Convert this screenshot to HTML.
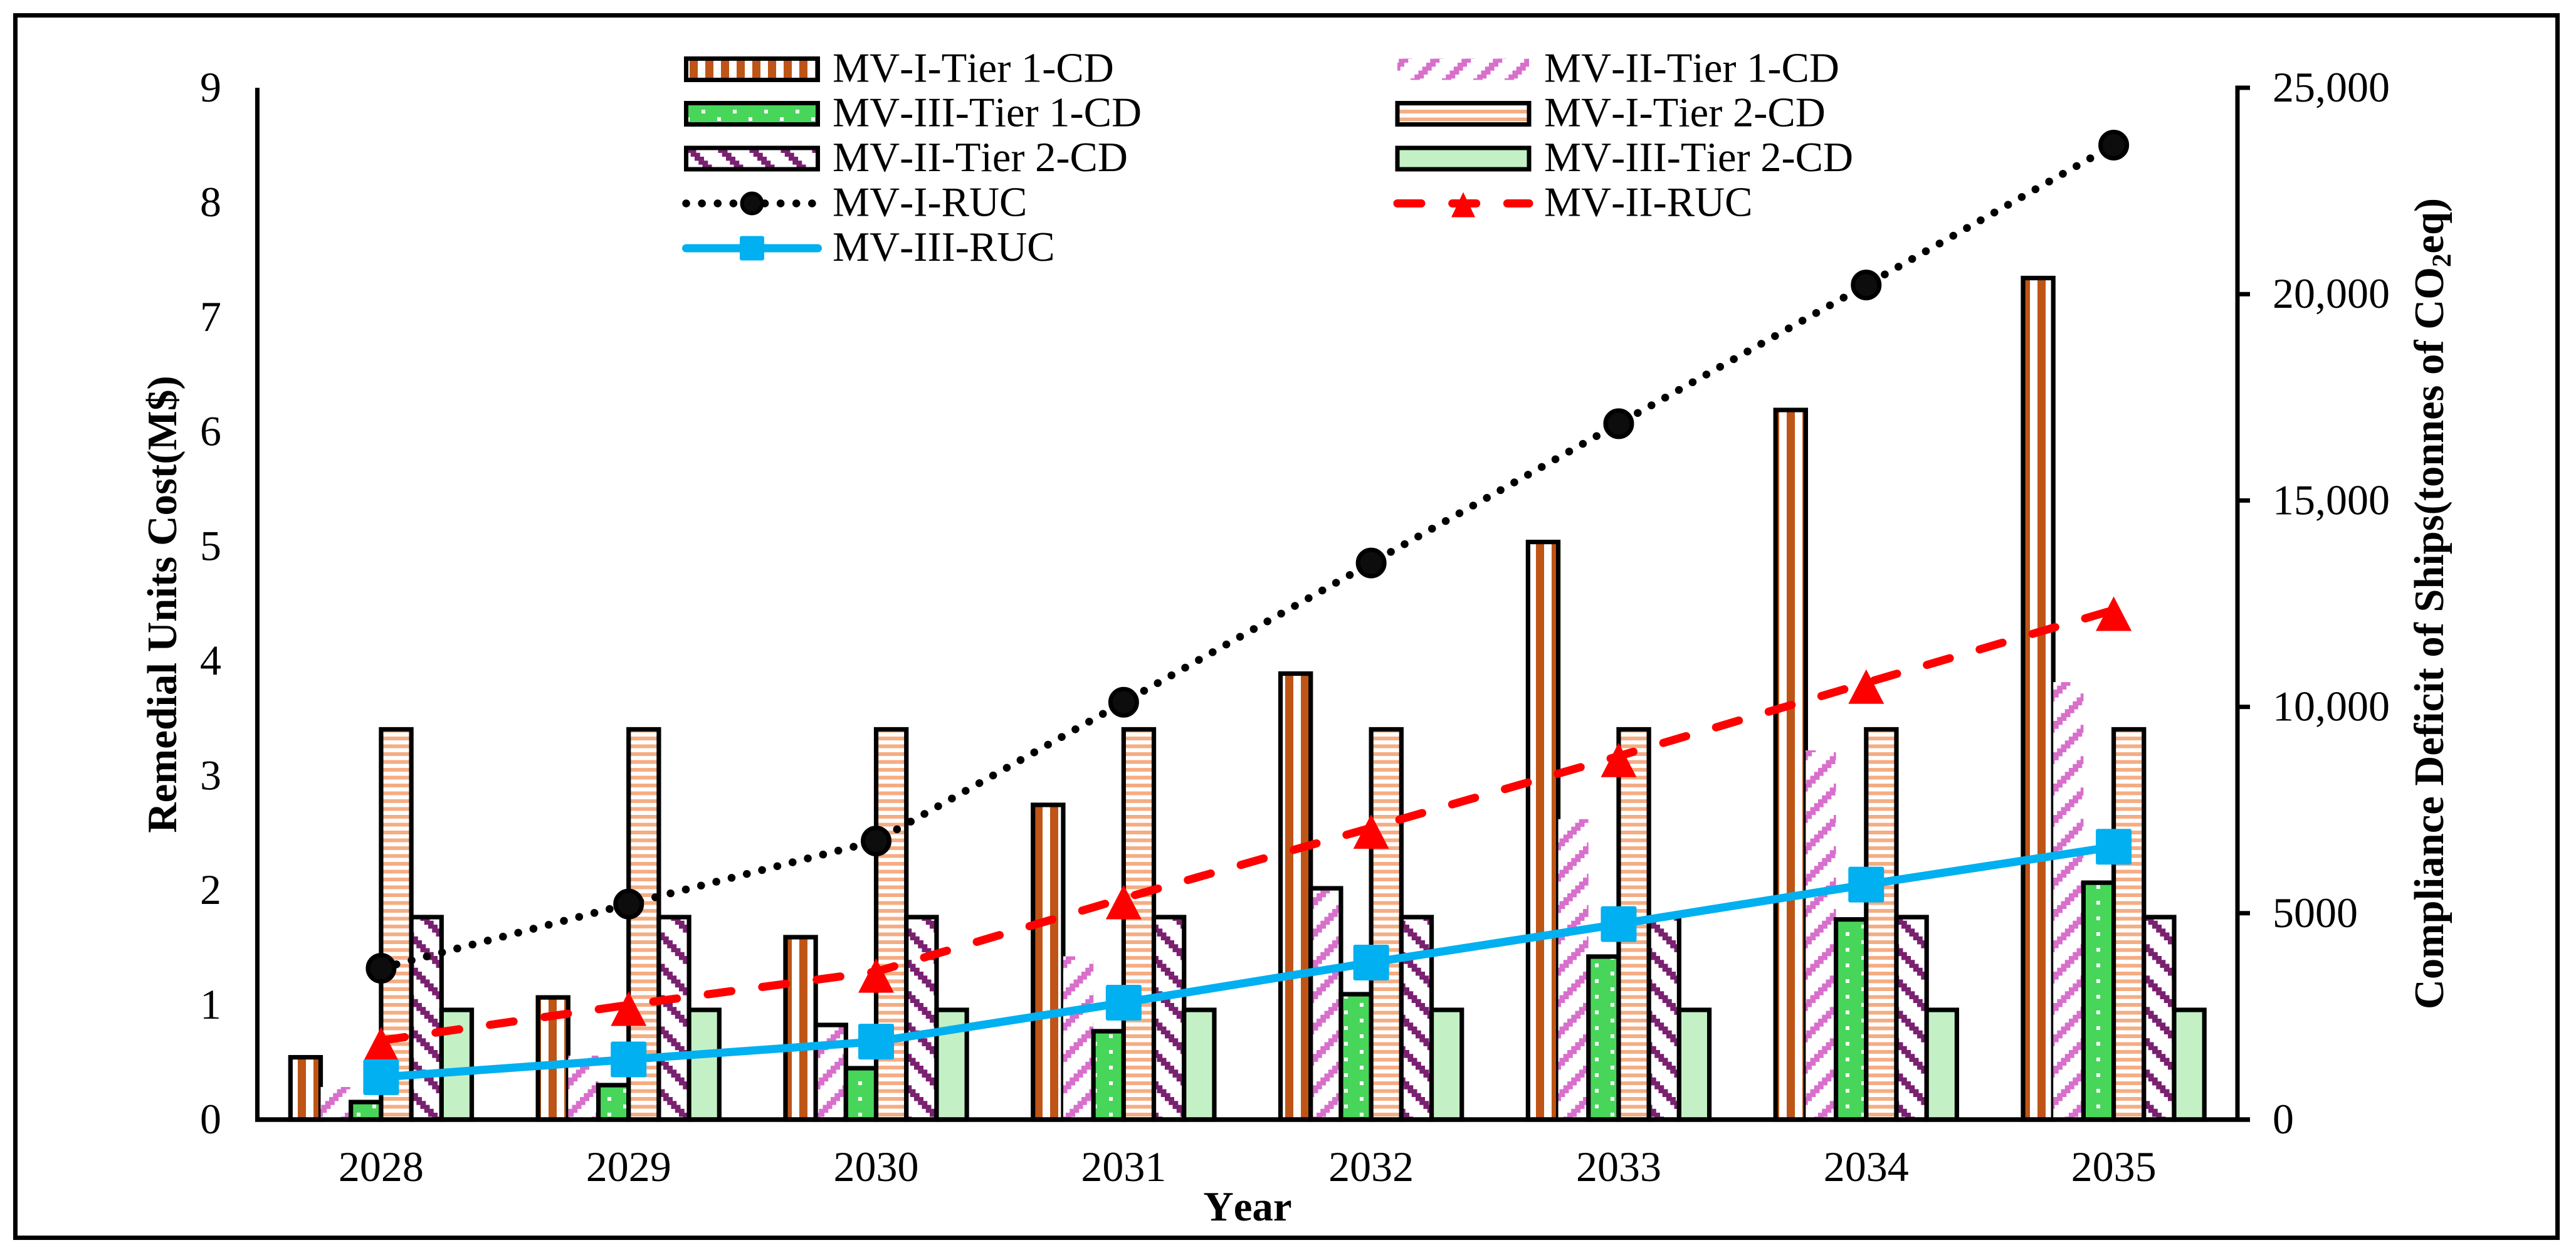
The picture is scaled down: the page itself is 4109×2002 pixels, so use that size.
<!DOCTYPE html>
<html lang="en">
<head>
<meta charset="utf-8">
<title>Remedial Units Cost and Compliance Deficit of Ships</title>
<style>
  html, body { margin: 0; padding: 0; background: #fff; }
  svg { display: block; }
  text { font-family: "Liberation Serif", "Times New Roman", serif; fill: #000; font-kerning: none; }
</style>
</head>
<body>
<svg id="chart" xmlns="http://www.w3.org/2000/svg" width="4109" height="2002" viewBox="0 0 4109 2002">
  <defs id="defs"></defs>
  <rect x="0" y="0" width="4109" height="2002" fill="#ffffff"/>
  <rect x="24.5" y="24.5" width="4055" height="1950" fill="none" stroke="#000" stroke-width="7"/>
  <g id="bars"></g>
  <g id="axes"></g>
  <g id="lines"></g>
  <g id="legend"></g>
  <text transform="translate(281 964) rotate(-90)" text-anchor="middle" font-size="67" font-weight="bold">Remedial Units Cost(M$)</text>
  <text transform="translate(3897 963) rotate(-90)" text-anchor="middle" font-size="66.5" font-weight="bold">Compliance Deficit of Ships(tonnes of CO<tspan font-size="43" dy="12">2</tspan><tspan dy="-12">eq)</tspan></text>
  <text x="1990" y="1947" text-anchor="middle" font-size="67" font-weight="bold">Year</text>
</svg>
<script>
// ---- chart data ----
const years = ['2028','2029','2030','2031','2032','2033','2034','2035'];
const leftTicks = [0,1,2,3,4,5,6,7,8,9];
const rightTicks = [0,5000,10000,15000,20000,25000];
const rightTickLabels = ['0','5000','10,000','15,000','20,000','25,000'];

// Compliance deficit bars (right axis, tonnes of CO2eq)
const mv1Tier1 = [1510,2960,4420,7625,10806,13995,17193,20390];
const mv2Tier1 = [790,1550,2293,3956,5604,7280,8946,10600];
const mv3Tier1 = [425,835,1245,2141,3038,3950,4850,5740];
const mv1Tier2 = [9455,9455,9455,9455,9455,9455,9455,9455];
const mv2Tier2 = [4906,4906,4906,4906,4906,4906,4906,4906];
const mv3Tier2 = [2658,2658,2658,2658,2658,2658,2658,2658];
// Years whose MV-II Tier 1 bar carries a black outline in the original
const mv2Tier1Outlined = ['2030','2032'];

// Remedial units cost lines (left axis, M$)
const mv1Ruc = [1.32,1.88,2.43,3.64,4.855,6.07,7.28,8.50];
const mv2Ruc = [0.69,1.00,1.29,1.93,2.545,3.17,3.81,4.445];
const mv3Ruc = [0.37,0.525,0.68,1.02,1.37,1.705,2.05,2.38];

// ---- geometry ----
const NS = 'http://www.w3.org/2000/svg';
const plotLeft = 410.5, plotRight = 3569, y0 = 1786, yTop = 140;
const catW = (plotRight - plotLeft) / years.length;
const barStep = 48.2;
const xCat = i => plotLeft + catW * (i + 0.5);
const yLeft = v => y0 - (v / 9) * (y0 - yTop);
const yRight = v => y0 - (v / 25000) * (y0 - yTop);

function mk(tag, attrs, parent) {
  const el = document.createElementNS(NS, tag);
  for (const k in attrs) el.setAttribute(k, attrs[k]);
  if (parent) parent.appendChild(el);
  return el;
}

// ---- fill patterns ----
const defs = document.getElementById('defs');
function pattern(id, w, h, bg) {
  const p = mk('pattern', {id: id, patternUnits: 'userSpaceOnUse', x: 0, y: 0, width: w, height: h}, defs);
  mk('rect', {x: 0, y: 0, width: w, height: h, fill: bg}, p);
  return p;
}
const pOrange = pattern('p-mv1t1', 25, 25, '#ffffff');
mk('rect', {x: 0, y: 0, width: 13, height: 25, fill: '#BE5516'}, pOrange);

const pPeach = pattern('p-mv1t2', 25, 12.5, '#ffffff');
mk('rect', {x: 0, y: 0, width: 25, height: 6, fill: '#F4AD83'}, pPeach);

const pGreen = pattern('p-mv3t1', 50, 25, '#48D65A');
mk('rect', {x: 44, y: 12, width: 6, height: 6, fill: '#ffffff'}, pGreen);
mk('rect', {x: 19, y: 0, width: 6, height: 6, fill: '#ffffff'}, pGreen);

const cell = 6.25;
function stairRow(p, color, xStart, yRow, w) {
  const x = ((xStart % 50) + 50) % 50;
  mk('rect', {x: x, y: yRow, width: w, height: cell + 0.2, fill: color}, p);
  if (x + w > 50) mk('rect', {x: x - 50, y: yRow, width: w, height: cell + 0.2, fill: color}, p);
}
const pPurple = pattern('p-mv2t2', 50, 50, '#ffffff');
for (let r = 0; r < 8; r++) stairRow(pPurple, '#7A2070', 8 + r * cell, r * cell, 2.4 * cell);
const pPink = pattern('p-mv2t1', 50, 50, '#ffffff');
for (let r = 0; r < 8; r++) stairRow(pPink, '#D86FCC', 25 - r * cell, r * cell, 2.4 * cell);

const pLight = pattern('p-mv3t2', 10, 10, '#C3F1C5');

// ---- bars ----
const barSeries = [
  {key: 'mv-i-tier-1', values: mv1Tier1, fill: 'url(#p-mv1t1)', stroke: true},
  {key: 'mv-ii-tier-1', values: mv2Tier1, fill: 'url(#p-mv2t1)', stroke: false},
  {key: 'mv-iii-tier-1', values: mv3Tier1, fill: 'url(#p-mv3t1)', stroke: true},
  {key: 'mv-i-tier-2', values: mv1Tier2, fill: 'url(#p-mv1t2)', stroke: true},
  {key: 'mv-ii-tier-2', values: mv2Tier2, fill: 'url(#p-mv2t2)', stroke: true},
  {key: 'mv-iii-tier-2', values: mv3Tier2, fill: 'url(#p-mv3t2)', stroke: true}
];
const barsG = document.getElementById('bars');
barSeries.forEach((s, si) => {
  s.values.forEach((v, i) => {
    const outlined = s.stroke || mv2Tier1Outlined.includes(years[i]);
    const left = xCat(i) - 3 * barStep + si * barStep;
    const top = yRight(v);
    const r = mk('rect', {x: left, y: top, width: barStep, height: y0 - top, fill: s.fill}, barsG);
    if (outlined) {
      r.setAttribute('stroke', '#000');
      r.setAttribute('stroke-width', '7.2');
    }
    
    
  });
});

// ---- axes ----
const axesG = document.getElementById('axes');
const leftAxis = mk('line', {x1: plotLeft, y1: yTop, x2: plotLeft, y2: y0 + 3.5, stroke: '#000', 'stroke-width': 7}, axesG);


const rightAxis = mk('line', {x1: plotRight, y1: yTop - 3.5, x2: plotRight, y2: y0 + 3.5, stroke: '#000', 'stroke-width': 7}, axesG);


const bottomAxis = mk('line', {x1: plotLeft - 3.5, y1: y0, x2: 3589, y2: y0, stroke: '#000', 'stroke-width': 7.5}, axesG);



leftTicks.forEach(v => {
  const t = mk('text', {x: 353, y: yLeft(v) + 22, 'text-anchor': 'end', 'font-size': 68}, axesG);
  t.textContent = String(v);
  
  
});
rightTicks.forEach((v, i) => {
  const tk = mk('line', {x1: plotRight, y1: yRight(v), x2: 3589, y2: yRight(v), stroke: '#000', 'stroke-width': 7}, axesG);
  
  
  const t = mk('text', {x: 3625, y: yRight(v) + 22, 'text-anchor': 'start', 'font-size': 68}, axesG);
  t.textContent = rightTickLabels[i];
  
  
});
years.forEach((y, i) => {
  const t = mk('text', {x: xCat(i), y: 1884, 'text-anchor': 'middle', 'font-size': 68}, axesG);
  t.textContent = y;
  
  
});

// ---- lines ----
function straightPath(values) {
  return values.map((v, i) => (i === 0 ? 'M' : 'L') + xCat(i) + ' ' + yLeft(v)).join(' ');
}
function circleMarker(g, cx, cy, r, sw) {
  return mk('circle', {cx: cx, cy: cy, r: r, fill: '#0D0D0D', stroke: '#000', 'stroke-width': sw}, g);
}
function triMarker(g, cx, cy, w, h) {
  return mk('polygon', {points: (cx) + ',' + (cy - h / 2) + ' ' + (cx + w / 2) + ',' + (cy + h / 2) + ' ' + (cx - w / 2) + ',' + (cy + h / 2), fill: '#FF0000'}, g);
}
function squareMarker(g, cx, cy, s) {
  return mk('rect', {x: cx - s / 2, y: cy - s / 2, width: s, height: s, rx: 3, fill: '#00B0F0'}, g);
}
const linesG = document.getElementById('lines');
const lineSeries = [
  {key: 'mv-i-ruc', values: mv1Ruc, color: '#000', width: 12.5, dash: '0.1 25', marker: 'circle'},
  {key: 'mv-ii-ruc', values: mv2Ruc, color: '#FF0000', width: 13, dash: '38 49.7', marker: 'tri'},
  {key: 'mv-iii-ruc', values: mv3Ruc, color: '#00B0F0', width: 13, dash: 'none', marker: 'square'}
];
lineSeries.forEach(s => {
  const p = mk('path', {d: straightPath(s.values), fill: 'none', stroke: s.color, 'stroke-width': s.width, 'stroke-linecap': 'round', 'stroke-linejoin': 'round', 'stroke-dasharray': s.dash}, linesG);
  
  
  s.values.forEach((v, i) => {
    let m;
    if (s.marker === 'circle') m = circleMarker(linesG, xCat(i), yLeft(v), 21, 7);
    else if (s.marker === 'tri') m = triMarker(linesG, xCat(i), yLeft(v) + 6, 57, 55);
    else m = squareMarker(linesG, xCat(i), yLeft(v), 57);
    
    
  });
});

// ---- legend ----
const legendG = document.getElementById('legend');
const colA = 1094.5, colB = 2229, swW = 210, textA = 1328, textB = 2463;
const rowY = [110.5, 181.5, 253, 324.5, 396];
const legendBars = [
  {label: 'MV-I-Tier 1-CD', fill: 'url(#p-mv1t1)', stroke: true, col: 0, row: 0},
  {label: 'MV-II-Tier 1-CD', fill: 'url(#p-mv2t1)', stroke: false, col: 1, row: 0},
  {label: 'MV-III-Tier 1-CD', fill: 'url(#p-mv3t1)', stroke: true, col: 0, row: 1},
  {label: 'MV-I-Tier 2-CD', fill: 'url(#p-mv1t2)', stroke: true, col: 1, row: 1},
  {label: 'MV-II-Tier 2-CD', fill: 'url(#p-mv2t2)', stroke: true, col: 0, row: 2},
  {label: 'MV-III-Tier 2-CD', fill: 'url(#p-mv3t2)', stroke: true, col: 1, row: 2}
];
const legendLines = [
  {label: 'MV-I-RUC', color: '#000', width: 12.5, dash: '0.1 25', marker: 'circle', col: 0, row: 3},
  {label: 'MV-II-RUC', color: '#FF0000', width: 13, dash: '38 49.7', marker: 'tri', col: 1, row: 3},
  {label: 'MV-III-RUC', color: '#00B0F0', width: 13, dash: 'none', marker: 'square', col: 0, row: 4}
];
function legendText(label, col, row) {
  const t = mk('text', {x: col === 0 ? textA : textB, y: rowY[row] + 20, 'font-size': 66.5}, legendG);
  t.textContent = label;
  
  
}
legendBars.forEach(b => {
  const x = b.col === 0 ? colA : colB;
  const r = mk('rect', {x: x, y: rowY[b.row] - 17, width: swW, height: 34, fill: b.fill}, legendG);
  if (b.stroke) {
    r.setAttribute('stroke', '#000');
    r.setAttribute('stroke-width', '7');
  }
  
  
  legendText(b.label, b.col, b.row);
});
legendLines.forEach(l => {
  const x = l.col === 0 ? colA : colB;
  const y = rowY[l.row];
  const ln = mk('line', {x1: x, y1: y, x2: x + swW, y2: y, stroke: l.color, 'stroke-width': l.width, 'stroke-linecap': 'round', 'stroke-dasharray': l.dash}, legendG);
  
  
  const cx = x + swW / 2;
  let m;
  if (l.marker === 'circle') m = circleMarker(legendG, cx, y, 16, 6);
  else if (l.marker === 'tri') m = triMarker(legendG, cx, y + 2, 38, 40);
  else m = squareMarker(legendG, cx, y, 39);
  
  
  legendText(l.label, l.col, l.row);
});
</script>
</body>
</html>
